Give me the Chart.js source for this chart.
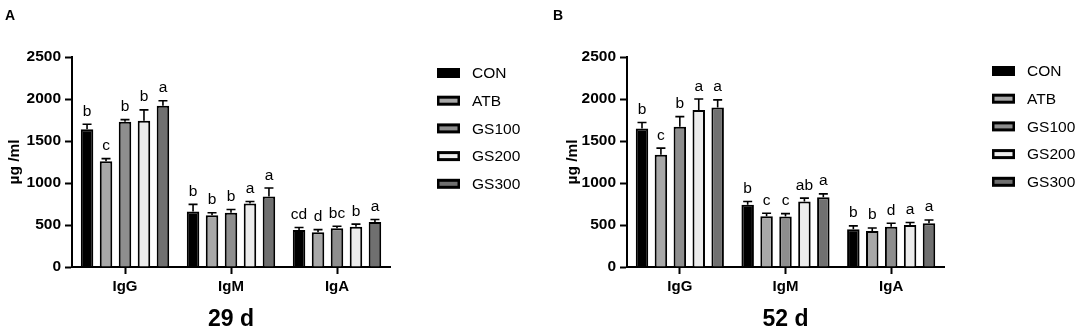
<!DOCTYPE html>
<html>
<head>
<meta charset="utf-8">
<script src="https://cdn.jsdelivr.net/npm/chart.js@4.4.1/dist/chart.umd.min.js"></script>
<style>
  html, body { margin: 0; padding: 0; background: #fff; }
  #wrap { position: relative; width: 1084px; height: 335px; }
  canvas { position: absolute; top: 0; }
  #chartA { left: 0; }
  #chartB { left: 540px; }
</style>
</head>
<body>
<div id="wrap">
  <canvas id="chartA" width="540" height="335"></canvas>
  <canvas id="chartB" width="544" height="335"></canvas>
</div>
<script>
/* Datos */
const groups = ['IgG', 'IgM', 'IgA'];
const treatments = ['CON', 'ATB', 'GS100', 'GS200', 'GS300'];
const yTicks = [0, 500, 1000, 1500, 2000, 2500];

/* 29 d */
const conA = [1640, 660, 440];
const atbA = [1260, 615, 415];
const gs100A = [1730, 645, 460];
const gs200A = [1740, 755, 480];
const gs300A = [1920, 840, 535];
const conErrA = [60, 85, 30];
const atbErrA = [30, 30, 30];
const gs100ErrA = [25, 40, 25];
const gs200ErrA = [130, 25, 30];
const gs300ErrA = [60, 100, 30];
const conLetA = ['b', 'b', 'cd'];
const atbLetA = ['c', 'b', 'd'];
const gs100LetA = ['b', 'b', 'bc'];
const gs200LetA = ['b', 'a', 'b'];
const gs300LetA = ['a', 'a', 'a'];

/* 52 d */
const conB = [1650, 740, 450];
const atbB = [1335, 605, 430];
const gs100B = [1670, 600, 480];
const gs200B = [1870, 780, 500];
const gs300B = [1900, 830, 520];
const conErrB = [70, 40, 40];
const atbErrB = [80, 35, 35];
const gs100ErrB = [120, 35, 40];
const gs200ErrB = [130, 40, 30];
const gs300ErrB = [90, 40, 40];
const conLetB = ['b', 'b', 'b'];
const atbLetB = ['c', 'c', 'b'];
const gs100LetB = ['b', 'c', 'd'];
const gs200LetB = ['a', 'ab', 'a'];
const gs300LetB = ['a', 'a', 'a'];

const fills = ['#000000', '#a8a8a8', '#8e8e8e', '#ececec', '#707070'];
const FONT = "'Liberation Sans', Arial, sans-serif";

/* Barras de error + letras */
const errorBarsPlugin = {
  id: 'errorBars',
  afterDatasetsDraw(chart) {
    const ctx = chart.ctx;
    const y = chart.scales.y;
    ctx.save();
    chart.data.datasets.forEach((ds, i) => {
      const meta = chart.getDatasetMeta(i);
      meta.data.forEach((bar, j) => {
        const top = y.getPixelForValue(ds.data[j] + ds.errors[j]);
        ctx.strokeStyle = '#000';
        ctx.lineWidth = 1.6;
        ctx.beginPath();
        ctx.moveTo(bar.x, bar.y);
        ctx.lineTo(bar.x, top);
        ctx.moveTo(bar.x - 4.5, top);
        ctx.lineTo(bar.x + 4.5, top);
        ctx.stroke();
        ctx.fillStyle = '#000';
        ctx.font = '15.5px ' + FONT;
        ctx.textAlign = 'center';
        ctx.textBaseline = 'bottom';
        ctx.fillText(ds.letters[j], bar.x, top - 5);
      });
    });
    ctx.restore();
  },
};

/* Leyenda y letra del panel */
const sideLegendPlugin = {
  id: 'sideLegend',
  afterDraw(chart, args, opts) {
    const ctx = chart.ctx;
    ctx.save();
    ctx.font = 'bold 14px ' + FONT;
    ctx.fillStyle = '#000';
    ctx.textAlign = 'left';
    ctx.textBaseline = 'alphabetic';
    ctx.fillText(opts.panel, opts.panelX, 20);
    chart.data.datasets.forEach((ds, i) => {
      const cy = opts.y0 + i * 27.7;
      ctx.fillStyle = '#000';
      ctx.fillRect(opts.x, cy - 5, 23, 10);
      ctx.fillStyle = ds.backgroundColor;
      ctx.fillRect(opts.x + 2.5, cy - 2, 18, 4);
      ctx.fillStyle = '#000';
      ctx.font = '15.5px ' + FONT;
      ctx.textBaseline = 'middle';
      ctx.fillText(ds.label, opts.x + 35, cy + 1);
    });
    ctx.restore();
  },
};

const makeDatasets = (series, errs, lets) =>
  treatments.map((t, i) => ({
    label: t,
    data: series[i],
    errors: errs[i],
    letters: lets[i],
    backgroundColor: fills[i],
    borderColor: '#000',
    borderWidth: 2,
    categoryPercentage: 0.895,
    barPercentage: 0.66,
  }));

const buildChart = (id, datasets, title, axisWidth, padRight, yTitleOffset, legend) => {
  return new Chart(document.getElementById(id), {
    type: 'bar',
    plugins: [errorBarsPlugin, sideLegendPlugin],
    data: { labels: groups, datasets: datasets },
    options: {
      responsive: false,
      animation: false,
      layout: { padding: { top: 57, right: padRight, left: 0, bottom: 0 } },
      plugins: {
        legend: { display: false },
        tooltip: { enabled: false },
        sideLegend: legend,
      },
      scales: {
        x: {
          afterFit: (scale) => { scale.height = 68; },
          grid: {
            offset: false,
            drawOnChartArea: false,
            drawTicks: true,
            tickLength: 7,
            tickColor: '#000',
            tickWidth: 2,
          },
          border: { display: true, color: '#000', width: 2 },
          ticks: {
            color: '#000',
            padding: 4,
            font: { family: FONT, size: 15, weight: 'bold' },
          },
          title: {
            display: true,
            text: title,
            color: '#000',
            font: { family: FONT, size: 23, weight: 'bold' },
            padding: { top: 0, bottom: 2 },
          },
        },
        y: {
          min: 0,
          max: 2500,
          afterFit: (scale) => { scale.width = axisWidth; },
          afterBuildTicks: (scale) => {
            scale.ticks = yTicks.map((v) => ({ value: v }));
          },
          grid: {
            drawOnChartArea: false,
            drawTicks: true,
            tickLength: 7,
            tickColor: '#000',
            tickWidth: 2,
          },
          border: { display: true, color: '#000', width: 2 },
          ticks: {
            color: '#000',
            padding: 4,
            callback: (value) => String(value),
            font: { family: FONT, size: 15.5, weight: 'bold' },
          },
          title: {
            display: true,
            text: 'µg /ml',
            color: '#000',
            font: { family: FONT, size: 15.5, weight: 'bold' },
            padding: { top: yTitleOffset, bottom: 0 },
          },
        },
      },
    },
  });
};

buildChart(
  'chartA',
  makeDatasets(
    [conA, atbA, gs100A, gs200A, gs300A],
    [conErrA, atbErrA, gs100ErrA, gs200ErrA, gs300ErrA],
    [conLetA, atbLetA, gs100LetA, gs200LetA, gs300LetA]
  ),
  '29 d', 72, 150, 5,
  { panel: 'A', panelX: 5, x: 437, y0: 73 }
);

buildChart(
  'chartB',
  makeDatasets(
    [conB, atbB, gs100B, gs200B, gs300B],
    [conErrB, atbErrB, gs100ErrB, gs200ErrB, gs300ErrB],
    [conLetB, atbLetB, gs100LetB, gs200LetB, gs300LetB]
  ),
  '52 d', 87, 140, 23,
  { panel: 'B', panelX: 13, x: 452, y0: 71 }
);
</script>
</body>
</html>
